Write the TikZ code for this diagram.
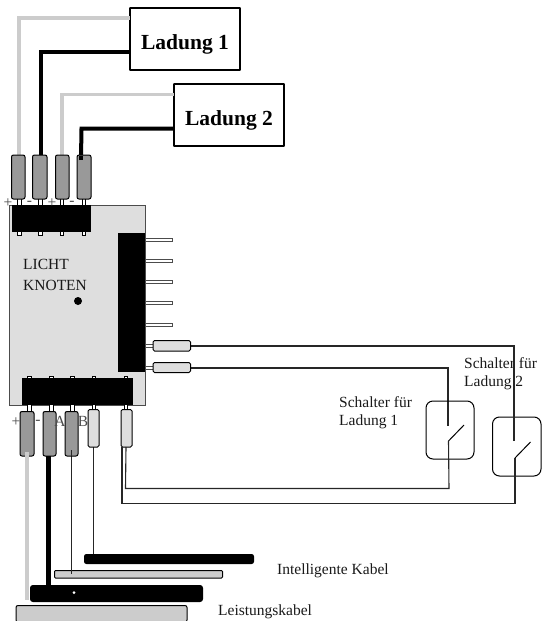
\documentclass[tikz,border=0pt]{standalone}
\usepackage{fontspec}
\setmainfont{Liberation Serif}
\definecolor{lgray}{HTML}{CCCCCC}
\definecolor{pale}{HTML}{DEDEDE}
\definecolor{mid}{HTML}{999999}
\tikzset{x=1pt,y=-1pt,
 loadbox/.style={draw=black,line width=1.8pt,rounded corners=0.5pt,fill=white,inner sep=0pt},
 loadtext/.style={font=\bfseries\fontsize{21.5}{24}\selectfont,inner sep=0pt},
 plug/.style={draw=black,line width=1pt,rounded corners=2pt,fill=mid},
 plugpale/.style={draw=black,line width=1pt,rounded corners=1.5pt,fill=pale},
 pin/.style={draw=black,line width=0.7pt,fill=white},
 graywire/.style={draw=lgray,line width=3.8pt},
 blackwire/.style={draw=black,line width=4pt},
 thin wire/.style={draw=black!85,line width=1pt},
 lbl/.style={font=\fontsize{15.5}{18}\selectfont,inner sep=0pt,align=left,anchor=west,text=black!90},
 sign/.style={font=\fontsize{15.5}{16}\selectfont,inner sep=0pt,text=black!70},
 switchbox/.style={draw=black,line width=1pt,rounded corners=7pt}
}
\begin{document}
\begin{tikzpicture}
\useasboundingbox (0,0) rectangle (541,621);
% main box
\draw[draw=black!70,fill=pale,line width=1pt] (9,205) rectangle (145,405);
% load boxes
\node[loadbox,minimum width=110pt,minimum height=62pt] (l1) at (185,39) {};
\node[loadtext] (l1t) at (185,44.5) {Ladung 1};
\node[loadbox,minimum width=110pt,minimum height=62pt] (l2) at (229,115) {};
\node[loadtext] (l2t) at (229,120.5) {Ladung 2};
% top wires
\coordinate (a1) at (19,156); \coordinate (a2) at (40.5,156); \coordinate (a3) at (62,156); \coordinate (a4) at (81,158);
\draw[graywire] (a1) -- (19,18) -- (130,18);
\draw[blackwire] (a2) -- (40.5,52) -- (130,52);
\draw[graywire] (a3) -- (62,94.5) -- (174,94.5);
\draw[blackwire] (a4) -- (81.5,128.5) -- (174,128.5);
% top pins
\foreach \x in {19.5,40.5,62,84}{\draw[pin] (\x-1.7,197) rectangle (\x+1.7,235);}
% top plugs
\draw[plug] (11.5,155) rectangle (25,199);
\draw[plug] (32.5,155) rectangle (47,199);
\draw[plug] (55.5,155) rectangle (69,199);
\draw[plug] (77,155) rectangle (91,199);
\draw[blackwire] (81,160) -- (81,155.5);
\fill[black] (12,205) rectangle (91,232);
% right block
\foreach \y in {239.5,260.5,282,303,324.5}{\draw[draw=black!70,fill=white,line width=0.8pt] (145,\y-1.5) rectangle (172.5,\y+1.5);}
\foreach \y in {346,367.5}{\draw[draw=black!70,fill=white,line width=0.8pt] (145,\y-1.5) rectangle (153,\y+1.5);}
\fill[black] (118,233) rectangle (145,372);
\draw[black!70,line width=1pt] (145,233) -- (145,372);
% right long wires
\coordinate (sw1top) at (448,426); \coordinate (sw2top) at (514,441);
\draw[thin wire,line width=1.2pt] (190,346) -- (514,346) -- (sw2top);
\draw[thin wire,line width=1.1pt] (190,368) -- (448,368) -- (sw1top);
\draw[plugpale] (153,340.5) rectangle (190.5,351);
\draw[plugpale] (153,362.5) rectangle (190.5,372.5);
% bottom pins
\foreach \x in {29.5,51.5,72.5,94,126}{\draw[pin] (\x-1.7,376.5) rectangle (\x+1.7,412);}
\fill[black] (22,378) rectangle (133,405);
% bottom wires
\draw[graywire] (27,450) -- (27,600);
\draw[blackwire,line width=5pt] (48.5,455) -- (48.5,586);
\draw[thin wire] (71,455) -- (71,574);
\draw[thin wire] (93.5,447) -- (93.5,555);
\draw[plug] (20,411.5) rectangle (34,456);
\draw[plug] (43,411.5) rectangle (56,456);
\draw[plug] (65,411.5) rectangle (78,456);
\fill[lgray] (25.1,452) rectangle (28.9,460);
\fill[black] (46,455.5) rectangle (51,460);
\draw[thin wire] (71,450) -- (71,456);
\draw[plugpale] (88,409.5) rectangle (99,447);
\draw[plugpale] (121,409.5) rectangle (132,447);
% switches
\draw[switchbox] (426,401) rectangle (474,459);
\draw[switchbox] (492.5,417) rectangle (541,476);
\node[lbl] (s1) at (339,413) {Schalter für\\Ladung 1};
\node[lbl] (s2) at (464,374) {Schalter für\\Ladung 2};
\draw[thin wire,line width=1.1pt] (sw2top) -- (514,346);
\coordinate (b1) at (448.5,441); \coordinate (b2) at (515,458);
\draw[black,line width=1pt] (b1) -- (464,425);
\draw[black,line width=1pt] (b2) -- (530.5,442);
\draw[thin wire,line width=1.1pt] (126,447) -- (125.5,488.5) -- (449,488.5) -- (b1);
\draw[thin wire,line width=1.1pt] (122,447) -- (122,503.5) -- (515,503.5) -- (b2);
% bars
\draw[black,fill=black,line width=1pt,rounded corners=2pt] (84.5,554.5) rectangle (253.5,563.5);
\draw[black,fill=lgray,line width=1pt,rounded corners=1pt] (54.5,570.5) rectangle (222.5,578);
\draw[thin wire] (71,565) -- (71,574);
\draw[black,fill=black,line width=1pt,rounded corners=2.5pt] (30.5,585.5) rectangle (202.5,601.5);
\draw[fill=white,draw=none] (74,592.5) circle (1.5);
\draw[black,fill=lgray,line width=1pt,rounded corners=2pt] (16,605.5) rectangle (187,622);
% labels
\node[lbl,font=\fontsize{15.5}{20.5}\selectfont] (kn) at (23,275) {LICHT\\KNOTEN};
\fill[black] (78,301) circle (4);
\node[lbl] (k1) at (277,571) {Intelligente Kabel};
\node[lbl] (k2) at (218,612) {Leistungskabel};
\node[sign] at (8,203) {+};
\node[sign] at (29.5,203) {-};
\node[sign] at (52,203) {+};
\node[sign] at (72,203) {-};
\node[sign] at (16,422) {+};
\node[sign] at (38,422) {-};
\node[sign] at (60,421) {A};
\node[sign] at (83,421) {B};
\end{tikzpicture}
\end{document}
